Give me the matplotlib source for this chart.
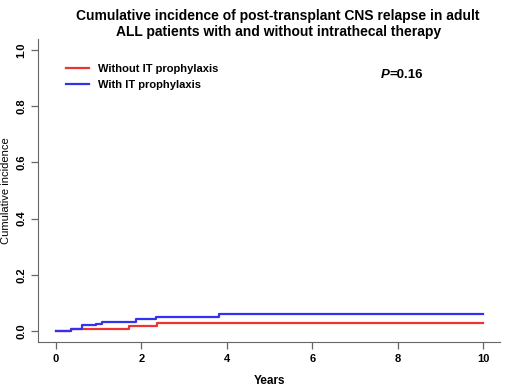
import matplotlib
matplotlib.use('Agg')
import matplotlib.pyplot as plt

plt.rcParams['font.family'] = ['Liberation Sans', 'DejaVu Sans']

# Step times (years) and cumulative incidence after each step
without_it_t = [0, 0.35, 1.72, 2.36, 10]
without_it_y = [0, 0.008, 0.017, 0.027, 0.027]
with_it_t = [0, 0.35, 0.6, 0.95, 1.07, 1.87, 2.34, 3.82, 10]
with_it_y = [0, 0.008, 0.021, 0.026, 0.033, 0.043, 0.05, 0.061, 0.061]

x_ticks = [0, 2, 4, 6, 8, 10]
y_ticks = [0.0, 0.2, 0.4, 0.6, 0.8, 1.0]

fig = plt.figure(figsize=(5.2, 3.9), dpi=100)
ax = fig.add_axes([0.073, 0.123, 0.889, 0.777])

ax.step(without_it_t, without_it_y, where='post', color='#ee3333', lw=1.6,
        label='Without IT prophylaxis')
ax.step(with_it_t, with_it_y, where='post', color='#3333ee', lw=1.6,
        label='With IT prophylaxis')

ax.set_xlim(-0.42, 10.4)
ax.set_ylim(-0.04, 1.04)
ax.set_xticks(x_ticks)
ax.set_xticklabels([str(t) for t in x_ticks], fontsize=8, fontweight='bold')
ax.set_yticks(y_ticks)
ax.set_yticklabels([f'{t:.1f}' for t in y_ticks], fontsize=8, fontweight='bold',
                   rotation=90, va='center')

for s in ['top', 'right']:
    ax.spines[s].set_visible(False)
for s in ['left', 'bottom']:
    ax.spines[s].set_color('#666666')
ax.tick_params(colors='#666666', labelcolor='black', length=5, width=0.9)

ax.set_xlabel('Years', fontsize=8.5, fontweight='bold', labelpad=8)
ax.set_ylabel('Cumulative incidence', fontsize=8)
ax.yaxis.set_label_coords(-0.058, 0.5)

ax.legend(loc='upper left', bbox_to_anchor=(0.04, 0.95), frameon=False,
          prop={'size': 8, 'weight': 'bold'}, handlelength=2.0,
          labelspacing=0.55, handletextpad=0.8)

p = ax.text(0.742, 0.88, 'P', transform=ax.transAxes, fontsize=9.5,
            fontweight='bold', style='italic', va='center')
ax.annotate('=0.16', xy=(1, 0.5), xycoords=p, va='center', ha='left',
            fontsize=9.5, fontweight='bold')

fig.suptitle('Cumulative incidence of post-transplant CNS relapse in adult\n'
             'ALL patients with and without intrathecal therapy',
             x=0.535, y=0.978, fontsize=10, fontweight='bold', linespacing=1.2)

fig.savefig('out.png', dpi=100)
